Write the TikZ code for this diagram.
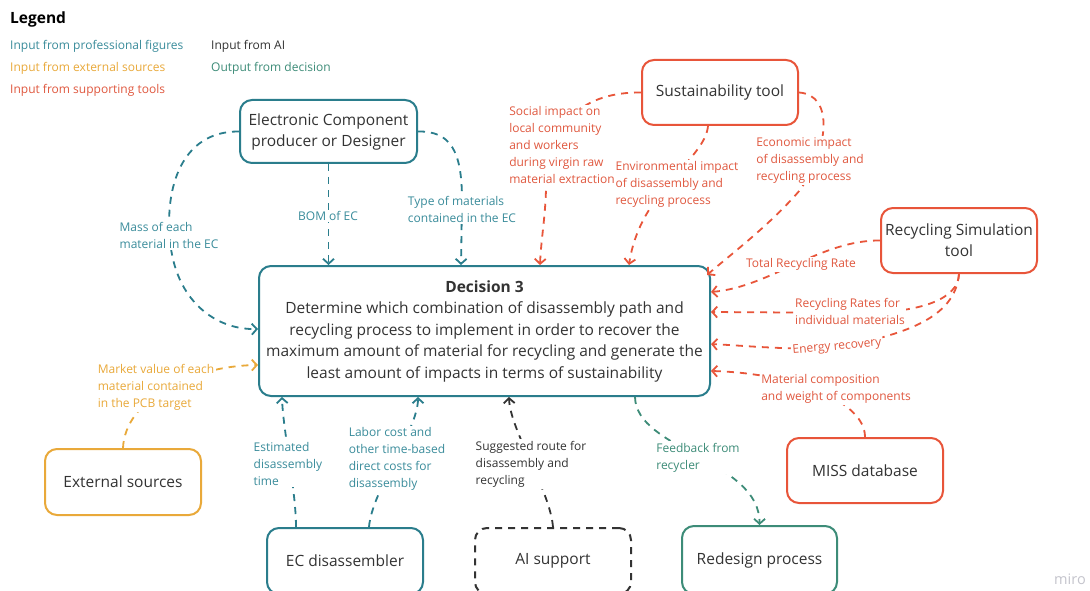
\documentclass[tikz,border=0pt]{standalone}
\usepackage{fontspec}
\setmainfont{Open Sans}
\usetikzlibrary{arrows.meta}
\definecolor{tealc}{HTML}{2A7D8C}
\definecolor{tealt}{HTML}{3A8C9B}
\definecolor{redc}{HTML}{E8553A}
\definecolor{redt}{HTML}{E0583F}
\definecolor{orangec}{HTML}{E9A93A}
\definecolor{greenc}{HTML}{3D8C78}
\definecolor{darkt}{HTML}{333333}
\definecolor{miroc}{HTML}{C4C4CC}
\tikzset{
  box/.style={draw, rounded corners=12pt, line width=2pt, fill=white, align=center,
    font=\fontsize{15.5}{21}\selectfont, text=darkt, inner sep=0pt},
  conn/.style={line width=1.8pt, dash pattern=on 7pt off 6pt,
    -{Straight Barb[length=5pt,width=11pt,line width=1.8pt]}},
  lbl/.style={fill=white, align=left, font=\fontsize{12}{17}\selectfont, inner sep=1.5pt},
  leg/.style={anchor=west, font=\fontsize{12}{17}\selectfont, inner sep=0pt}
}
\begin{document}
\begin{tikzpicture}[x=1pt,y=-1pt]
\useasboundingbox (0,0) rectangle (1090,591);
\clip (0,0) rectangle (1090,591);
\fill[white] (0,0) rectangle (1090,591);

% legend
\node[leg, font=\fontsize{15.5}{18}\selectfont\bfseries, text=black] (legt) at (10,19) {Legend};
\node[leg, text=tealt] (l1) at (10,46) {Input from professional figures};
\node[leg, text=orangec] (l2) at (10,68) {Input from external sources};
\node[leg, text=redt] (l3) at (10,90) {Input from supporting tools};
\node[leg, text=darkt] (l4) at (211,46) {Input from AI};
\node[leg, text=greenc] (l5) at (211,68) {Output from decision};

% nodes
\node[box, draw=tealc, minimum width=177pt, minimum height=63pt] (ecp) at (328.5,131.5) {Electronic Component\\producer or Designer};
\node[box, draw=redc, minimum width=156pt, minimum height=65pt] (sus) at (720,92.5) {Sustainability tool};
\node[box, draw=redc, minimum width=156pt, minimum height=65pt] (rst) at (959,240.5) {Recycling Simulation\\tool};
\node[box, draw=tealc, minimum width=451pt, minimum height=130pt, font=\fontsize{15.5}{21.5}\selectfont] (dec) at (484.5,331) {\textbf{Decision 3}\\Determine which combination of disassembly path and\\recycling process to implement in order to recover the\\maximum amount of material for recycling and generate the\\least amount of impacts in terms of sustainability};
\node[box, draw=orangec, minimum width=156pt, minimum height=66pt] (ext) at (123,482) {External sources};
\node[box, draw=redc, minimum width=156pt, minimum height=65pt] (miss) at (865,470.5) {MISS database};
\node[box, draw=tealc, minimum width=156pt, minimum height=66pt] (ecd) at (345,561) {EC disassembler};
\node[box, draw=darkt, dash pattern=on 7pt off 6pt, minimum width=156pt, minimum height=66pt] (ai) at (553,561) {AI support};
\node[box, draw=greenc, minimum width=155pt, minimum height=68pt] (rd) at (759.5,560) {Redesign process};

% connectors: professional figures
\draw[conn, tealc] (ecp.west) .. controls (180,131) and (165,190) .. (170,240) .. controls (175,300) and (215,330) .. ([yshift=-64pt]dec.north west);
\draw[conn, tealc] (ecp.south) -- (ecp.south |- dec.north);
\draw[conn, tealc] (ecp.east) .. controls (450,131) and (462,150) .. (462,200) -- ([xshift=203pt]dec.north west);
\draw[conn, tealc] ([xshift=30pt]ecd.north west) .. controls (296,490) and (283,430) .. ([xshift=24pt]dec.south west);
\draw[conn, tealc] ([xshift=103pt]ecd.north west) .. controls (372,490) and (418,430) .. ([xshift=160pt]dec.south west);

% supporting tools
\draw[conn, redc] (sus.west) .. controls (585,92) and (548,120) .. (546,190) .. controls (545,220) and (541,240) .. ([xshift=282pt]dec.north west);
\draw[conn, redc] ([xshift=-12pt]sus.south) .. controls (705,160) and (640,190) .. ([xshift=371pt]dec.north west);
\draw[conn, redc] (sus.east) .. controls (835,95) and (828,150) .. (800,190) .. controls (770,225) and (730,255) .. ([xshift=-4pt,yshift=-10pt]dec.north east);
\draw[conn, redc] (rst.west) .. controls (820,240) and (770,287) .. ([yshift=-27pt]dec.north east);
\draw[conn, redc] (rst.south) .. controls (958,300) and (920,311) .. (870,313) -- ([yshift=-47pt]dec.north east);
\draw[conn, redc] (rst.south) .. controls (955,320) and (900,335) .. (840,347) .. controls (800,351) and (750,346) .. ([yshift=-79pt]dec.north east);
\draw[conn, redc] (miss.north) .. controls (865,400) and (790,373) .. ([yshift=-106pt]dec.north east);

% external
\draw[conn, orangec] (ext.north) .. controls (125,400) and (190,366) .. ([yshift=-100pt]dec.north west);

% AI
\draw[conn, darkt] (ai.north) .. controls (550,490) and (510,430) .. ([xshift=251pt]dec.south west);

% output
\draw[conn, greenc] ([xshift=377pt]dec.south west) .. controls (636,450) and (760,460) .. (rd.north);

% labels
\node[lbl, text=tealt] (lmass) at (169,235.5) {Mass of each\\material in the EC};
\node[lbl, text=tealt] (lbom) at (328,216) {BOM of EC};
\node[lbl, text=tealt] (ltype) at (462,209.5) {Type of materials\\contained in the EC};
\node[lbl, text=redt] (lsoc) at (562,145) {Social impact on\\local community\\and workers\\during virgin raw\\material extraction};
\node[lbl, text=redt] (lenv) at (677,184.5) {Environmental impact\\of disassembly and\\recycling process};
\node[lbl, text=redt] (leco) at (810,160.5) {Economic impact\\of disassembly and\\recycling process};
\node[lbl, text=redt] (ltot) at (801,264) {Total Recycling Rate};
\node[lbl, text=redt] (lrat) at (850,311.5) {Recycling Rates for\\individual materials};
\node[lbl, text=redt, rotate=5] (lene) at (837,347) {Energy recovery};
\node[lbl, text=redt] (lmat) at (836,388.5) {Material composition\\and weight of components};
\node[lbl, text=orangec] (lmkt) at (156,387.5) {Market value of each\\material contained\\in the PCB target};
\node[lbl, text=tealt] (lest) at (288,464) {Estimated\\disassembly\\time};
\node[lbl, text=tealt] (llab) at (397,458.5) {Labor cost and\\other time-based\\direct costs for\\disassembly};
\node[lbl, text=darkt] (lsug) at (531,464) {Suggested route for\\disassembly and\\recycling};
\node[lbl, text=greenc] (lfb) at (698,457.5) {Feedback from\\recycler};

\node[font=\fontsize{14.5}{16}\selectfont, text=miroc, inner sep=0pt] (miro) at (1070,579) {miro};
\end{tikzpicture}
\end{document}
